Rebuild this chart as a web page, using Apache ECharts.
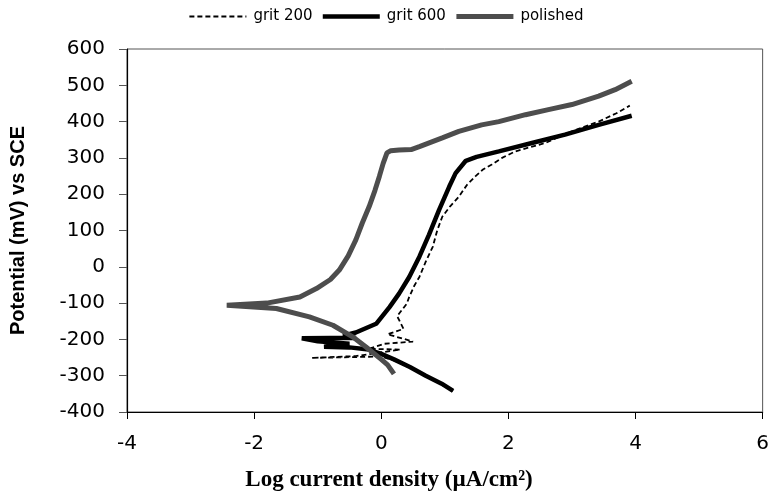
<!DOCTYPE html>
<html><head><meta charset="utf-8">
<script src="https://cdn.jsdelivr.net/npm/echarts@6/dist/echarts.min.js"></script>
<style>html,body{margin:0;padding:0;background:#fff}#c{width:772px;height:495px}</style>
</head><body><div id="c"></div>
<script>
const seriesNames = ['grit 200', 'grit 600', 'polished'];
const xTicks = [-4, -2, 0, 2, 4, 6];
const yTicks = [-400, -300, -200, -100, 0, 100, 200, 300, 400, 500, 600];

// [log current density, potential mV], ordered along the scan
const grit200 = [[1.13,-342],[0.95,-325],[0.8,-310],[0.5,-282],[0.2,-258],[0,-247],[-0.5,-249],[-1.1,-251],
  [-0.4,-246],[0.3,-228],[-0.2,-226],[0.05,-212],[0.5,-206],[0.1,-186],[0.35,-171],[0.25,-136],[0.4,-102],
  [0.44,-83],[0.52,-52],[0.6,-28],[0.7,14],[0.81,55],[0.88,100],[0.96,138],[1.08,166],[1.22,193],[1.35,226],
  [1.48,249],[1.6,268],[1.74,282],[1.9,300],[2.11,318],[2.35,330],[2.58,341],[3.0,373],[3.42,400],[3.7,423],[3.91,444]];
const grit600 = [[1.13,-342],[0.95,-322],[0.7,-300],[0.45,-276],[0.2,-255],[0,-240],[-0.2,-228],[-0.5,-222],
  [-0.9,-220],[-0.5,-212],[-1.0,-205],[-1.25,-197],[-0.8,-196],[-0.4,-196],[-0.6,-190],[-0.4,-181],[-0.08,-157],
  [0.13,-111],[0.28,-74],[0.44,-28],[0.6,28],[0.75,88],[0.91,157],[1.07,221],[1.17,258],[1.33,292],[1.5,303],
  [1.85,318],[2.37,341],[2.89,364],[3.42,391],[3.94,416]];
const polished = [[0.2,-295],[0.1,-270],[0,-255],[-0.24,-221],[-0.45,-193],[-0.76,-161],[-1.13,-138],[-1.65,-115],
  [-2.43,-106],[-1.8,-100],[-1.28,-83],[-1.02,-60],[-0.8,-35],[-0.66,-9],[-0.52,30],[-0.4,74],[-0.3,120],[-0.19,166],
  [-0.1,210],[-0.03,249],[0.03,285],[0.09,314],[0.15,320],[0.28,322],[0.47,323],[0.6,331],[0.96,355],[1.22,373],
  [1.58,391],[1.85,400],[2.27,419],[2.63,433],[3.0,447],[3.42,470],[3.68,488],[3.94,511]];

const sans = '"DejaVu Sans", Arial, sans-serif';
const chart = echarts.init(document.getElementById('c'), null, {renderer: 'canvas'});
chart.setOption({
  animation: false,
  backgroundColor: '#fff',
  grid: {left: 126, right: 7, top: 49, bottom: 83, show: true, borderColor: '#555', borderWidth: 1},
  legend: {
    top: 4, left: 'center',
    itemWidth: 57, itemHeight: 14, itemGap: 8,
    itemStyle: {opacity: 0},
    lineStyle: {width: 'inherit'},
    textStyle: {fontFamily: sans, fontSize: 15, color: '#000', padding: [0, 0, 0, 2]},
    data: seriesNames
  },
  graphic: [{
    type: 'text', x: 389, y: 480,
    style: {text: 'Log current density (µA/cm²)', font: 'bold 23px "Liberation Serif", "Times New Roman", serif',
            fill: '#000', textAlign: 'center', textVerticalAlign: 'middle'}
  }],
  xAxis: {
    type: 'value', min: xTicks[0], max: xTicks[xTicks.length - 1], interval: 2,
    axisLine: {show: true, onZero: false, lineStyle: {color: '#000', width: 1.2}},
    axisTick: {show: true, length: 7, lineStyle: {color: '#000'}},
    splitLine: {show: false},
    axisLabel: {margin: 22, fontFamily: sans, fontSize: 20, color: '#000'}
  },
  yAxis: {
    type: 'value', min: yTicks[0], max: yTicks[yTicks.length - 1], interval: 100,
    name: 'Potential (mV) vs SCE', nameLocation: 'middle', nameGap: 99,
    nameTextStyle: {fontFamily: '"Liberation Sans", Arial, sans-serif', fontWeight: 'bold', fontSize: 20, color: '#000'},
    axisLine: {show: true, onZero: false, lineStyle: {color: '#000', width: 1.2}},
    axisTick: {show: true, length: 8, lineStyle: {color: '#555'}},
    splitLine: {show: false},
    axisLabel: {margin: 22, fontFamily: sans, fontSize: 20, color: '#000'}
  },
  series: [
    {name: seriesNames[0], type: 'line', data: grit200, symbol: 'none', color: '#000',
     lineStyle: {color: '#000', width: 1.8, type: [5, 3]}, z: 2},
    {name: seriesNames[1], type: 'line', data: grit600, symbol: 'none', color: '#000',
     lineStyle: {color: '#000', width: 4.5}, z: 3},
    {name: seriesNames[2], type: 'line', data: polished, symbol: 'none', color: '#4d4d4d',
     lineStyle: {color: '#4d4d4d', width: 5}, z: 4}
  ]
});
</script></body></html>
